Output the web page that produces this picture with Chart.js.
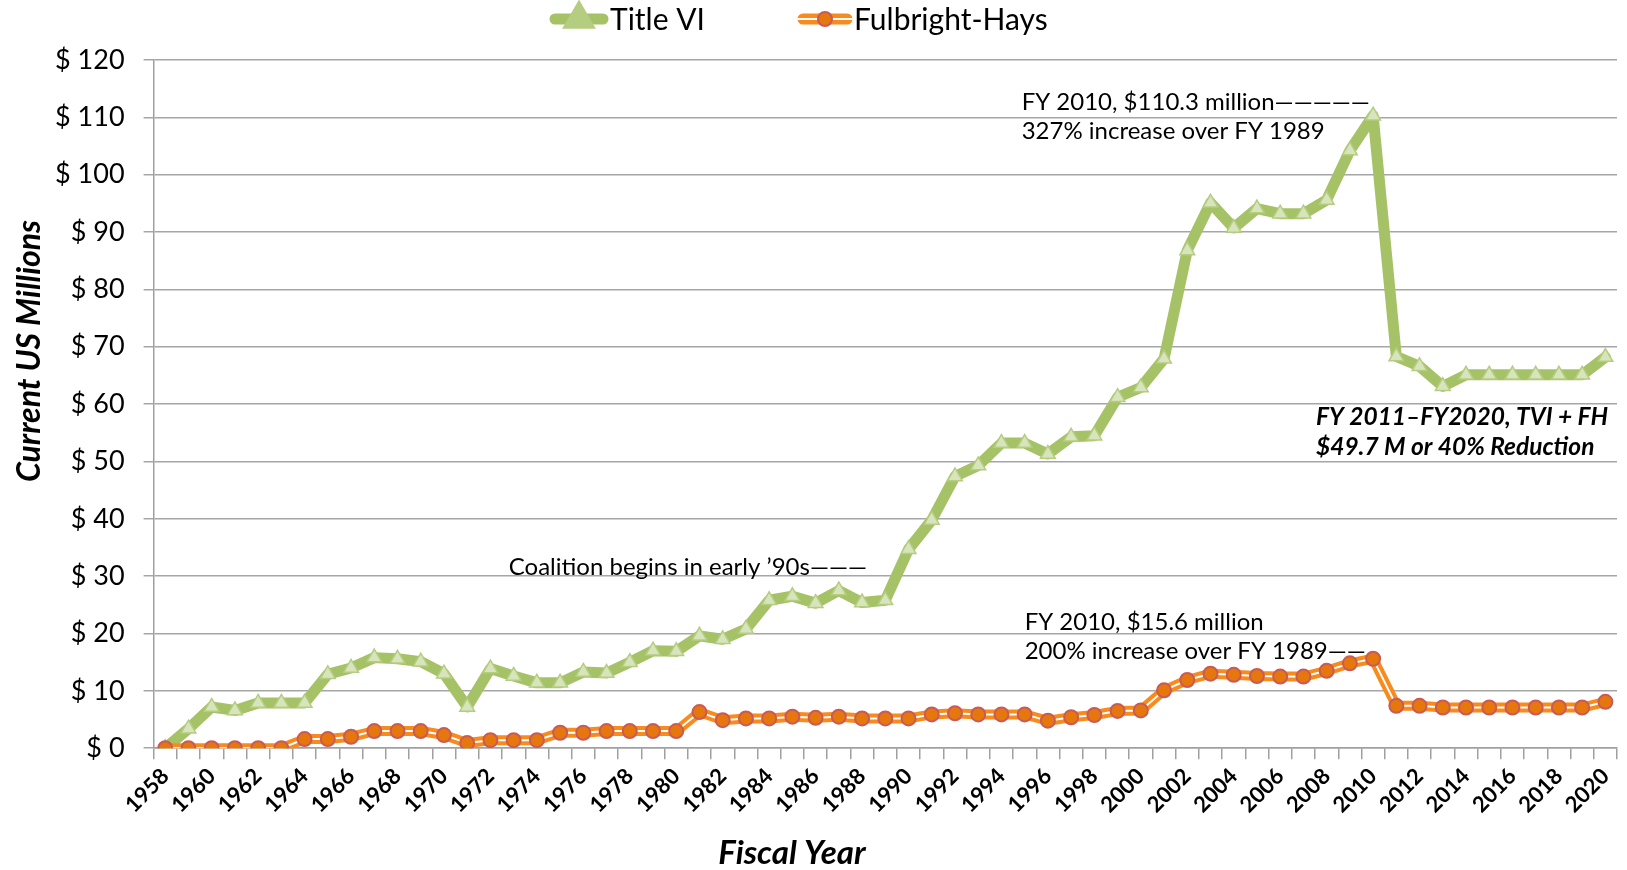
<!DOCTYPE html>
<html>
<head>
    <title>Title VI and Fulbright-Hays funding</title>
    <script src="https://cdn.jsdelivr.net/npm/chart.js"></script>
    <style>
        body { margin: 0; background: #fff; }
    </style>
</head>
<body>
    <canvas id="chart" width="1627" height="870"></canvas>
    <script>
        // fiscal years on the x axis
        const years = [
            '1958', '1959', '1960', '1961', '1962', '1963', '1964', '1965', '1966', '1967',
            '1968', '1969', '1970', '1971', '1972', '1973', '1974', '1975', '1976', '1977',
            '1978', '1979', '1980', '1981', '1982', '1983', '1984', '1985', '1986', '1987',
            '1988', '1989', '1990', '1991', '1992', '1993', '1994', '1995', '1996', '1997',
            '1998', '1999', '2000', '2001', '2002', '2003', '2004', '2005', '2006', '2007',
            '2008', '2009', '2010', '2011', '2012', '2013', '2014', '2015', '2016', '2017',
            '2018', '2019', '2020'
        ];

        // current US $ millions
        const titleVI = [
            0, 3.4, 7.2, 6.6, 7.9, 7.9, 7.9, 12.9, 14.0, 15.8,
            15.6, 15.1, 13.0, 7.2, 13.9, 12.6, 11.4, 11.4, 13.3, 13.1,
            15.0, 17.0, 16.9, 19.6, 19.0, 20.8, 25.8, 26.5, 25.3, 27.5,
            25.4, 25.8, 34.7, 39.8, 47.4, 49.3, 53.2, 53.2, 51.3, 54.3,
            54.5, 61.2, 62.9, 67.9, 86.8, 95.1, 90.7, 94.1, 93.2, 93.2,
            95.6, 104.2, 110.3, 68.3, 66.6, 63.1, 65.1, 65.1, 65.1, 65.1,
            65.1, 65.1, 68.2
        ];
        const fulbrightHays = [
            0, 0, 0, 0, 0, 0, 1.6, 1.6, 2.0, 3.0,
            3.0, 3.0, 2.3, 0.9, 1.4, 1.4, 1.4, 2.7, 2.7, 3.0,
            3.0, 3.0, 3.0, 6.3, 4.9, 5.2, 5.2, 5.5, 5.3, 5.5,
            5.2, 5.2, 5.2, 5.9, 6.1, 5.9, 5.9, 5.9, 4.8, 5.4,
            5.8, 6.5, 6.6, 10.1, 11.9, 13.0, 12.8, 12.6, 12.5, 12.5,
            13.5, 14.8, 15.6, 7.4, 7.4, 7.1, 7.1, 7.1, 7.1, 7.1,
            7.1, 7.1, 8.1
        ];

        const yTickLabels = ['$ 0', '$ 10', '$ 20', '$ 30', '$ 40', '$ 50', '$ 60',
            '$ 70', '$ 80', '$ 90', '$ 100', '$ 110', '$ 120'];

        const seriesNames = ['Title VI', 'Fulbright-Hays'];

        const GREEN = '#a6c267';
        const GREEN_FILL = '#d8e4bc';
        const GREEN_EDGE = '#b4cd80';
        const ORANGE = '#f98a1c';
        const ORANGE_FILL = '#e5770d';
        const ORANGE_EDGE = '#c95a58';

        const FONT = 'Lato, "Open Sans", sans-serif';

        // notes: x is a (fractional) category index, y a data value
        const notes = [
            { x: 36.87, y: [112.7, 107.6], text: ['FY 2010, $110.3 million—————', '327% increase over FY 1989'], bold: false },
            { x: 14.79, y: [31.6], text: ['Coalition begins in early \u201990s———'], bold: false },
            { x: 37.0, y: [21.9, 16.9], text: ['FY 2010, $15.6 million', '200% increase over FY 1989——'], bold: false },
            { x: 49.54, y: [57.7, 52.5], text: ['FY 2011\u2013FY2020, TVI + FH', '$49.7 M or 40% Reduction'], bold: true }
        ];

        function drawMarker(ctx, style, x, y) {
            if (style === 'triangle') {
                ctx.fillStyle = GREEN_FILL;
                ctx.strokeStyle = GREEN_EDGE;
                Chart.helpers.drawPoint(ctx, { pointStyle: 'triangle', radius: 8.5, rotation: 0, borderWidth: 1.5 }, x, y);
            } else {
                ctx.fillStyle = ORANGE_FILL;
                ctx.strokeStyle = ORANGE_EDGE;
                Chart.helpers.drawPoint(ctx, { pointStyle: 'circle', radius: 7, rotation: 0, borderWidth: 2 }, x, y);
            }
        }

        const extras = {
            id: 'extras',
            afterDraw(chart) {
                const ctx = chart.ctx;
                const xs = chart.scales.x;
                const ys = chart.scales.y;
                ctx.save();
                ctx.fillStyle = '#000';
                ctx.textBaseline = 'middle';
                ctx.textAlign = 'left';

                // notes
                notes.forEach(n => {
                    ctx.font = (n.bold ? 'italic bold 24.5px ' : '24px ') + FONT;
                    const left = xs.getPixelForValue(n.x);
                    n.text.forEach((t, i) => ctx.fillText(t, left, ys.getPixelForValue(n.y[i])));
                });

                // axis titles
                ctx.font = 'italic bold 33px ' + FONT;
                ctx.textAlign = 'center';
                ctx.fillText('Fiscal Year', 792, 853);
                ctx.font = 'italic bold 32px ' + FONT;
                ctx.translate(30, 351);
                ctx.rotate(-Math.PI / 2);
                ctx.fillText('Current US Millions', 0, 0);
                ctx.restore();

                // legend
                ctx.save();
                const ly = 19;
                const items = [
                    { x0: 550, x1: 608, color: GREEN, marker: 'triangle', text: seriesNames[0] },
                    { x0: 798, x1: 852, color: ORANGE, marker: 'circle', text: seriesNames[1] }
                ];
                items.forEach(it => {
                    ctx.lineCap = 'round';
                    ctx.strokeStyle = it.color;
                    ctx.lineWidth = 11;
                    ctx.beginPath();
                    ctx.moveTo(it.x0 + 5, ly);
                    ctx.lineTo(it.x1 - 5, ly);
                    ctx.stroke();
                    if (it.marker === 'circle') {
                        ctx.strokeStyle = '#fff';
                        ctx.lineWidth = 2;
                        ctx.beginPath();
                        ctx.moveTo(it.x0, ly);
                        ctx.lineTo(it.x1, ly);
                        ctx.stroke();
                    }
                    drawMarker(ctx, it.marker, (it.x0 + it.x1) / 2, ly);
                    ctx.fillStyle = '#000';
                    ctx.font = '30px ' + FONT;
                    ctx.textAlign = 'left';
                    ctx.textBaseline = 'middle';
                    ctx.fillText(it.text, it.x1 + 2, ly + 1);
                });
                ctx.restore();
            }
        };

        new Chart(document.getElementById('chart'), {
            type: 'line',
            data: {
                labels: years,
                datasets: [
                    {
                        // markers for Fulbright-Hays, drawn on top
                        label: seriesNames[1] + ' markers',
                        data: fulbrightHays,
                        showLine: false,
                        pointStyle: 'circle',
                        pointRadius: 7,
                        pointBackgroundColor: ORANGE_FILL,
                        pointBorderColor: ORANGE_EDGE,
                        pointBorderWidth: 2,
                        order: 0
                    },
                    {
                        // thin white inner stroke of the double line
                        label: seriesNames[1] + ' inner',
                        data: fulbrightHays,
                        borderColor: '#ffffff',
                        borderWidth: 2,
                        pointRadius: 0,
                        tension: 0,
                        order: 1
                    },
                    {
                        label: seriesNames[1],
                        data: fulbrightHays,
                        borderColor: ORANGE,
                        borderWidth: 10,
                        borderJoinStyle: 'round',
                        pointRadius: 0,
                        tension: 0,
                        order: 2
                    },
                    {
                        label: seriesNames[0],
                        data: titleVI,
                        borderColor: GREEN,
                        borderWidth: 11,
                        borderJoinStyle: 'round',
                        borderCapStyle: 'round',
                        pointStyle: 'triangle',
                        pointRadius: 8.5,
                        pointBackgroundColor: GREEN_FILL,
                        pointBorderColor: GREEN_EDGE,
                        pointBorderWidth: 1.5,
                        tension: 0,
                        order: 3
                    }
                ]
            },
            options: {
                responsive: false,
                animation: false,
                layout: {
                    padding: { top: 60, left: 54, right: 1, bottom: 48 }
                },
                plugins: {
                    legend: { display: false },
                    tooltip: { enabled: false }
                },
                scales: {
                    x: {
                        offset: true,
                        afterFit: (s) => { s.paddingLeft = 0; s.paddingRight = 0; },
                        grid: {
                            offset: true,
                            drawOnChartArea: false,
                            drawTicks: true,
                            tickLength: 11,
                            color: '#a0a0a0',
                            lineWidth: 1.5
                        },
                        border: { color: '#a0a0a0', width: 1.5 },
                        ticks: {
                            autoSkip: false,
                            minRotation: 45,
                            maxRotation: 45,
                            padding: 4,
                            color: '#000',
                            font: { family: FONT, size: 22, weight: 'bold' },
                            callback: (v, i) => (i % 2 === 0 ? years[i] : '')
                        }
                    },
                    y: {
                        min: 0,
                        max: 120,
                        afterFit: (s) => { s.width = 99.6; },
                        grid: {
                            color: '#a6a6a6',
                            lineWidth: 1.5,
                            tickLength: 10
                        },
                        border: { color: '#a0a0a0', width: 1.5 },
                        ticks: {
                            stepSize: 10,
                            padding: 19,
                            color: '#000',
                            font: { family: FONT, size: 27 },
                            callback: (v) => yTickLabels[Math.round(v / 10)]
                        }
                    }
                }
            },
            plugins: [extras]
        });
    </script>
</body>
</html>
